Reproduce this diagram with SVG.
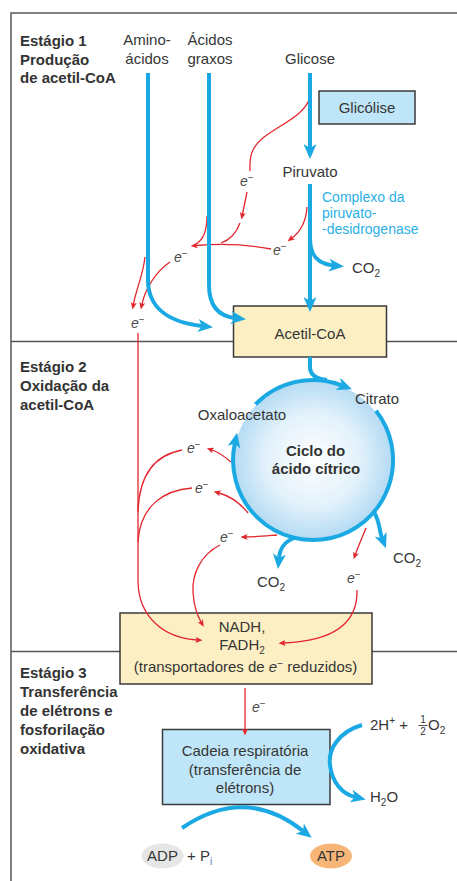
<svg xmlns="http://www.w3.org/2000/svg" width="457" height="881" viewBox="0 0 457 881">
<defs>
<style>
text{font-family:"Liberation Sans",Arial,sans-serif;font-size:15px;fill:#363636}
.st{font-weight:bold;fill:#333}
.bold{font-weight:bold;fill:#333}
.cy{fill:#2bb0e6;font-size:14px}
.em{font-size:14px;fill:#4a4a4a}
.it{font-style:italic}
.sup{font-size:10px}
.sub{font-size:10px}
.c{text-anchor:middle}
.b{fill:none;stroke:#1aa9e3;stroke-width:4}
.r{fill:none;stroke:#e3262e;stroke-width:1.3}
.frame{stroke:#555;stroke-width:1.5;fill:none}
.box{stroke:#3a3a3a;stroke-width:1.5}
.yel{fill:#fcefc3}
.blu{fill:#bfe6f8}
</style>
<marker id="ab" viewBox="0 0 15 13" markerWidth="15" markerHeight="13" refX="4" refY="6.5" orient="auto" markerUnits="userSpaceOnUse"><path d="M0,0 L15,6.5 L0,13 L4,6.5 Z" fill="#1aa9e3"/></marker>
<marker id="ar" viewBox="0 0 7 6" markerWidth="7" markerHeight="6" refX="1.5" refY="3" orient="auto" markerUnits="userSpaceOnUse"><path d="M0,0 L7,3 L0,6 L1.5,3 Z" fill="#e3262e"/></marker>
<radialGradient id="cg" cx="50%" cy="50%" r="50%">
<stop offset="0" stop-color="#ffffff"/>
<stop offset="0.6" stop-color="#e2f1fb"/>
<stop offset="1" stop-color="#b4dbf4"/>
</radialGradient>
</defs>

<g id="frame">
<path class="frame" d="M11,881 V13 H457"/>
<line class="frame" x1="11" y1="341.5" x2="457" y2="341.5"/>
<line class="frame" x1="11" y1="651.5" x2="457" y2="651.5"/>
</g>

<g id="stage-labels">
<text class="st" x="20" y="46">Estágio 1</text>
<text class="st" x="20" y="64.5">Produção</text>
<text class="st" x="20" y="83">de acetil-CoA</text>
<text class="st" x="20" y="372">Estágio 2</text>
<text class="st" x="20" y="391">Oxidação da</text>
<text class="st" x="20" y="410">acetil-CoA</text>
<text class="st" x="20" y="678">Estágio 3</text>
<text class="st" x="20" y="697">Transferência</text>
<text class="st" x="20" y="716">de elétrons e</text>
<text class="st" x="20" y="735">fosforilação</text>
<text class="st" x="20" y="754">oxidativa</text>
</g>

<g id="aminoacidos"><text class="c" x="147" y="45">Amino-</text><text class="c" x="147" y="63.5">ácidos</text></g>
<g id="acidos-graxos"><text class="c" x="210" y="45">Ácidos</text><text class="c" x="210" y="63.5">graxos</text></g>
<g id="glicose"><text class="c" x="310" y="63.5">Glicose</text></g>
<g id="glicolise"><rect class="box blu" x="319" y="91" width="96" height="33"/><text class="c" x="367" y="112.5">Glicólise</text></g>
<g id="piruvato"><text class="c" x="310" y="176.5">Piruvato</text></g>
<g id="complexo"><text class="cy" x="322" y="202">Complexo da</text><text class="cy" x="322" y="218">piruvato-</text><text class="cy" x="322" y="234">-desidrogenase</text></g>
<g id="co2-1"><text x="352" y="273">CO<tspan class="sub" dy="4">2</tspan></text></g>
<g id="acetil-coa"><rect class="box yel" x="233.5" y="306" width="153" height="51"/><text class="c" x="310" y="339">Acetil-CoA</text></g>

<g id="ciclo">
<circle cx="313" cy="460" r="79" fill="url(#cg)"/>
<text class="bold c" x="315.5" y="456">Ciclo do</text>
<text class="bold c" x="316" y="474">ácido cítrico</text>
</g>
<g id="citrato"><text class="c" x="377" y="404">Citrato</text></g>
<g id="oxaloacetato"><text class="c" x="242" y="420">Oxaloacetato</text></g>
<g id="co2-2"><text x="257" y="587">CO<tspan class="sub" dy="4">2</tspan></text></g>
<g id="co2-3"><text x="393" y="563">CO<tspan class="sub" dy="4">2</tspan></text></g>

<g id="nadh">
<rect class="box yel" x="120" y="613" width="252" height="71"/>
<text class="c" x="242" y="632">NADH,</text>
<text class="c" x="242" y="650">FADH<tspan class="sub" dy="4">2</tspan></text>
<text class="c" x="245.5" y="672">(transportadores de <tspan class="it">e</tspan><tspan class="sup" dy="-5">−</tspan><tspan dy="5"> reduzidos)</tspan></text>
</g>

<g id="cadeia">
<rect class="box blu" x="162.5" y="729.5" width="167.5" height="75"/>
<text class="c" x="245" y="756">Cadeia respiratória</text>
<text class="c" x="245" y="775">(transferência de</text>
<text class="c" x="245" y="793">elétrons)</text>
</g>

<g id="o2">
<text x="370" y="730">2H<tspan class="sup" dy="-6">+</tspan><tspan dy="6"> + </tspan></text>
<text x="423" y="723" class="c" style="font-size:10px">1</text>
<line x1="418.5" y1="725.5" x2="427.5" y2="725.5" stroke="#363636" stroke-width="0.9"/>
<text x="423" y="735" class="c" style="font-size:10px">2</text>
<text x="428" y="730">O<tspan class="sub" dy="4">2</tspan></text>
</g>
<g id="h2o"><text x="370" y="802">H<tspan class="sub" dy="4">2</tspan><tspan dy="-4">O</tspan></text></g>

<g id="adp">
<ellipse cx="162.5" cy="856" rx="21" ry="12.5" fill="#e6e6e6"/>
<text class="c" x="162.5" y="861">ADP</text>
<text x="187" y="861">+ P<tspan class="sub" dy="4" fill="#4f7fc4">i</tspan></text>
</g>
<g id="atp">
<ellipse cx="331" cy="856" rx="21" ry="12.5" fill="#f7b678"/>
<text class="c" x="331" y="861">ATP</text>
</g>

<g id="connectors">
<path class="r" d="M309,100 C300,122 262,130 253,150 C249,158 250,165 250,171"/>
<path class="r" d="M247,192 L242.5,214" marker-end="url(#ar)"/>
<path class="r" d="M240,223 C236,234 230,240 221,243"/>
<path class="r" d="M207,216 C207,232 203,240 196,244"/>
<path class="r" d="M271,249 C250,245 225,243 196,245.5" marker-end="url(#ar)"/>
<path class="r" d="M307,207 C306,222 300,232 292,238" marker-end="url(#ar)"/>
<path class="r" d="M170,262 C155,272 145,290 142,304" marker-end="url(#ar)"/>
<path class="r" d="M145,257 C143,275 136,290 133.5,304" marker-end="url(#ar)"/>
<path class="r" d="M138,333 V580 C138,618 165,638 197,640" marker-end="url(#ar)"/>
<path class="r" d="M231,462 C224,456 218,452 212,450" marker-end="url(#ar)"/>
<path class="r" d="M182,450 C155,455 139,475 138,512"/>
<path class="r" d="M248,513 C240,503 230,496 219,493" marker-end="url(#ar)"/>
<path class="r" d="M192,488 C165,490 140,505 138,542"/>
<path class="r" d="M277,535 C265,536 255,537 246,537" marker-end="url(#ar)"/>
<path class="r" d="M220,545 C200,555 192,575 193,592 C194,607 197,615 201,622" marker-end="url(#ar)"/>
<path class="r" d="M366,528 C362,538 358,547 355.5,554" marker-end="url(#ar)"/>
<path class="r" d="M357,590 C358,625 330,641 284,643" marker-end="url(#ar)"/>
<path class="r" d="M245,688 V730" marker-end="url(#ar)"/>

<text class="em" x="240" y="186"><tspan class="it">e</tspan><tspan class="sup" dy="-5">−</tspan></text>
<text class="em" x="273" y="255"><tspan class="it">e</tspan><tspan class="sup" dy="-5">−</tspan></text>
<text class="em" x="174" y="262"><tspan class="it">e</tspan><tspan class="sup" dy="-5">−</tspan></text>
<text class="em" x="131" y="328"><tspan class="it">e</tspan><tspan class="sup" dy="-5">−</tspan></text>
<text class="em" x="187" y="453"><tspan class="it">e</tspan><tspan class="sup" dy="-5">−</tspan></text>
<text class="em" x="195" y="493"><tspan class="it">e</tspan><tspan class="sup" dy="-5">−</tspan></text>
<text class="em" x="220" y="542"><tspan class="it">e</tspan><tspan class="sup" dy="-5">−</tspan></text>
<text class="em" x="347" y="583"><tspan class="it">e</tspan><tspan class="sup" dy="-5">−</tspan></text>
<text class="em" x="252" y="712"><tspan class="it">e</tspan><tspan class="sup" dy="-5">−</tspan></text>

<path class="b" d="M310,73 V148" marker-end="url(#ab)"/>
<path class="b" d="M310,184 V301" marker-end="url(#ab)"/>
<path class="b" d="M310,238 C310,256 318,264 333,265.5" marker-end="url(#ab)"/>
<path class="b" d="M148,73 V280 C148,305 165,322 202,326" marker-end="url(#ab)"/>
<path class="b" d="M209,73 V285 C209,305 218,316 235,318" marker-end="url(#ab)"/>
<path class="b" d="M310,357 V367 C310,375 316,379 327,380"/>
<path class="b" d="M255.5,404.4 A80,80 0 0 1 341.7,385.3" marker-end="url(#ab)"/>
<path class="b" d="M376,410.7 A80,80 0 1 1 234.8,443.4" marker-end="url(#ab)"/>
<path class="b" d="M374,512 C380,522 379,530 382,538" marker-end="url(#ab)"/>
<path class="b" d="M294,538 C284,542 280,548 279,558" marker-end="url(#ab)"/>
<path class="b" d="M362,725 C338,732 328,750 330,765 C332,782 342,794 355,797" marker-end="url(#ab)"/>
<path class="b" d="M182,828 Q245,785 303,831" marker-end="url(#ab)"/>
</g>
</svg>
